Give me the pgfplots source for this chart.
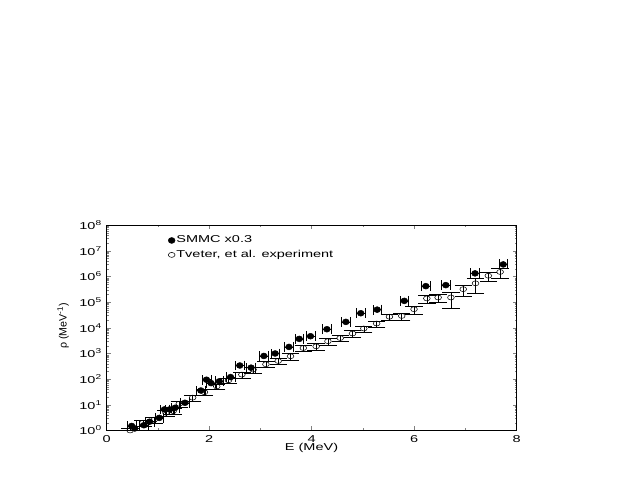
\documentclass[border=0pt]{standalone}
\usepackage{fontspec}
\setmainfont{Liberation Sans}[FakeStretch=1.45]
\newfontfamily\plainsans{Liberation Sans}
\usepackage{pgfplots}
\pgfplotsset{compat=1.18}

\begin{document}
\begin{tikzpicture}
\useasboundingbox (0,0) rectangle (467.25pt,363.75pt);
\begin{axis}[
    at={(79.9pt,40.9pt)}, anchor=south west,
    scale only axis, width=307.5pt, height=154pt,
    font=\fontsize{7.5}{9}\selectfont,
    ymode=log,
    xmin=0, xmax=8, ymin=1, ymax=1e8,
    xtick={0,2,4,6,8}, xticklabels={0,2,4,6,8},
    minor xtick={1,3,5,7},
    ytick={1,1e1,1e2,1e3,1e4,1e5,1e6,1e7,1e8},
    yticklabels={10\textsuperscript{0},10\textsuperscript{1},10\textsuperscript{2},10\textsuperscript{3},10\textsuperscript{4},10\textsuperscript{5},10\textsuperscript{6},10\textsuperscript{7},10\textsuperscript{8}},
    minor ytick={2,3,4,5,6,7,8,9,
      20,30,40,50,60,70,80,90,
      200,300,400,500,600,700,800,900,
      2e3,3e3,4e3,5e3,6e3,7e3,8e3,9e3,
      2e4,3e4,4e4,5e4,6e4,7e4,8e4,9e4,
      2e5,3e5,4e5,5e5,6e5,7e5,8e5,9e5,
      2e6,3e6,4e6,5e6,6e6,7e6,8e6,9e6,
      2e7,3e7,4e7,5e7,6e7,7e7,8e7,9e7},
    xtick pos=both, ytick pos=both,
    tick align=inside,
    major tick length=3pt, minor tick length=1.5pt,
    axis line style={line width=0.5pt},
    xlabel={E (MeV)},
    ylabel={{\plainsans\fontsize{8}{9}\selectfont ρ (MeV\textsuperscript{-1})}},
    xlabel style={at={(axis description cs:0.5,-0.085)}, anchor=center},
    ylabel style={at={(axis description cs:-0.106,0.51)}, anchor=center},
    legend style={at={(axis description cs:0.15,0.955)}, anchor=north west,
      draw=none, fill=none, inner sep=0pt, row sep=2pt,
      nodes={inner sep=1pt, anchor=west}},
    legend cell align=left,
    legend image code/.code={\draw[#1] plot coordinates {(0pt,0pt)};},
]
% SMMC, scaled by 0.3
\addplot[only marks, mark=*, mark size=2.2pt, line width=0.4pt,
    mark options={xscale=1.15, fill=black},
    error bars/.cd, x dir=both, x explicit, error mark=|,
    error bar style={line width=0.4pt},
    error mark options={mark size=3.7pt, line width=0.4pt}]
coordinates {
(0.49,1.5) +- (0.085,0)
(0.55,1.2) +- (0.085,0)
(0.73,1.6) +- (0.085,0)
(0.84,2.2) +- (0.085,0)
(1.03,3.1) +- (0.085,0)
(1.13,6.6) +- (0.085,0)
(1.23,6.6) +- (0.085,0)
(1.34,7.7) +- (0.085,0)
(1.53,12) +- (0.085,0)
(1.84,36) +- (0.085,0)
(1.95,95) +- (0.085,0)
(2.04,70) +- (0.085,0)
(2.2,82) +- (0.085,0)
(2.42,120) +- (0.085,0)
(2.6,340) +- (0.085,0)
(2.82,280) +- (0.085,0)
(3.07,800) +- (0.085,0)
(3.29,1000) +- (0.085,0)
(3.56,1800) +- (0.085,0)
(3.76,3700) +- (0.085,0)
(3.98,4700) +- (0.085,0)
(4.3,8800) +- (0.085,0)
(4.67,17000) +- (0.085,0)
(4.96,37000) +- (0.085,0)
(5.28,51000) +- (0.085,0)
(5.81,112000) +- (0.085,0)
(6.23,420000) +- (0.085,0)
(6.62,460000) +- (0.085,0)
(7.19,1320000) +- (0.085,0)
(7.74,2950000) +- (0.085,0)
};
\addlegendentry{SMMC x0.3}
% experiment
\addplot[only marks, mark=o, mark size=2.2pt, line width=0.4pt,
    mark options={xscale=1.15, yscale=0.85, fill=white},
    error bars/.cd, y dir=both, y explicit, error mark=|,
    error bar style={line width=0.4pt},
    error mark options={mark size=6.5pt, line width=0.4pt}]
coordinates {
(0.46,1.0) +- (0,0.25)
(0.71,2.0) +- (0,0.5)
(0.93,2.6) +- (0,0.65)
(1.16,4.9) +- (0,1.2)
(1.3,5.7) +- (0,1.4)
(1.42,11) +- (0,2.8)
(1.68,19) +- (0,4.8)
(1.91,31) +- (0,8)
(2.15,52) +- (0,13)
(2.38,90) +- (0,22)
(2.64,150) +- (0,38)
(2.86,235) +- (0,60)
(3.11,380) +- (0,100)
(3.35,510) +- (0,140)
(3.59,780) +- (0,220)
(3.84,1630) +- (0,450)
(4.09,1900) +- (0,530)
(4.32,3000) +- (0,840)
(4.56,4000) +- (0,1100)
(4.8,6000) +- (0,1700)
(5.02,9400) +- (0,2600)
(5.27,14700) +- (0,4100)
(5.52,27000) +- (0,8000)
(5.76,29000) +- (0,9500)
(6.0,53000) +- (0,19000)
(6.25,140000) +- (0,46000)
(6.47,152000) +- (0,50000)
(6.72,152000) +- (0,92000)
(6.96,320000) +- (0,145000)
(7.2,540000) +- (0,325000)
(7.45,1070000) +- (0,430000)
(7.68,1500000) +- (0,680000)
};
\addlegendentry{Tveter, et al. experiment}
\end{axis}
\end{tikzpicture}
\end{document}
